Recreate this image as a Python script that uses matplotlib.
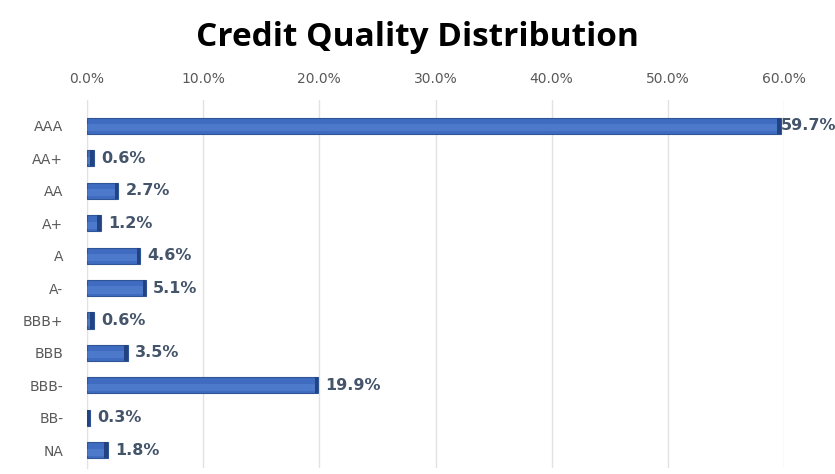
import matplotlib.pyplot as plt
import numpy as np

categories = ["AAA", "AA+", "AA", "A+", "A", "A-", "BBB+", "BBB", "BBB-", "BB-", "NA"]
values = [59.7, 0.6, 2.7, 1.2, 4.6, 5.1, 0.6, 3.5, 19.9, 0.3, 1.8]
xticks = [0, 10, 20, 30, 40, 50, 60]
title = "Credit Quality Distribution"

W, H = 835, 474
fig = plt.figure(figsize=(W / 100, H / 100), dpi=100)
ax = fig.add_axes([87 / W, 1 - 468 / H, 697 / W, 368 / H])

y = np.arange(len(categories))
ax.barh(y, values, height=0.5, color="#3F6CC0", edgecolor="#2F5597", linewidth=0.8, zorder=3)
# lighter lower band to hint gradient
ax.barh(y + 0.06, values, height=0.22, color="#5A86D4", edgecolor="none", zorder=4, alpha=0.5)
# darker end cap to hint 3D
ax.barh(y, [0.3] * len(values), left=np.array(values) - 0.3, height=0.5,
        color="#22437F", edgecolor="none", zorder=5)

for yi, v in zip(y, values):
    off = 0.05 if v > 50 else 0.6
    ax.text(v + off, yi, f"{v:.1f}%", va="center", ha="left", fontsize=11.5,
            fontweight="bold", color="#44546A", zorder=6)

ax.set_xlim(0, 60)
ax.set_ylim(10.55, -0.8)
ax.set_yticks(y)
ax.set_yticklabels(categories)
ax.set_xticks(xticks)
ax.set_xticklabels([f"{t:.1f}%" for t in xticks])
ax.xaxis.tick_top()
ax.tick_params(axis="both", length=0, labelsize=10, colors="#595959")
ax.tick_params(axis="x", pad=10)
ax.tick_params(axis="y", pad=17)
ax.grid(axis="x", color="#E2E2E2", linewidth=1, zorder=0)
for s in ["top", "right", "bottom"]:
    ax.spines[s].set_visible(False)
ax.spines["left"].set_color("#E2E2E2")

fig.text(417 / W, 1 - 38 / H, title, ha="center", va="center", fontsize=24,
         fontweight="bold", color="#000000", family="Open Sans")

fig.savefig("out.png", dpi=100)
